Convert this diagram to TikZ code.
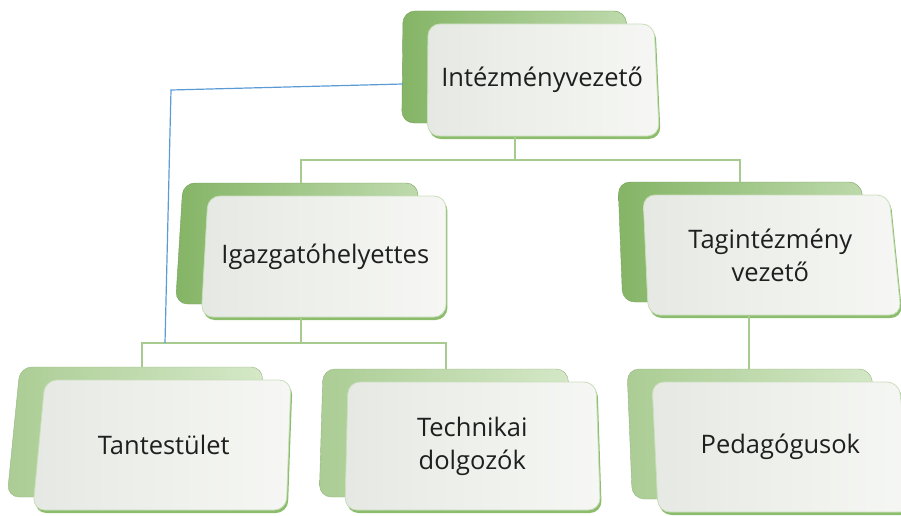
\documentclass[tikz,border=0pt]{standalone}
\usepackage{fontspec}
\setmainfont{Open Sans}
\usetikzlibrary{calc}
\definecolor{grnD}{HTML}{8ABC6A}
\definecolor{grnL}{HTML}{B2D59A}
\definecolor{rim}{HTML}{8CBD6D}
\definecolor{edge}{HTML}{C9DEBB}
\definecolor{frontA}{HTML}{E6E9E3}
\definecolor{frontB}{HTML}{F6F7F4}
\definecolor{conn}{HTML}{A7CB8F}
\definecolor{blueln}{HTML}{5B9BD5}
% back box, rim, front box and its named node; (x,y) is the front's top left corner
\def\orgbox[#1](#2,#3)(#4:#5)#6#7{%
  \pgfmathsetmacro\bx{#2-25}\pgfmathsetmacro\by{#3-13}\pgfmathsetmacro\bw{#4-3}%
  \pgfmathsetmacro\bl{(\bx-450)*0.03*#5/130}\pgfmathsetmacro\br{(\bx+\bw-450)*0.03*#5/130}%
  \pgfmathsetmacro\fl{(#2-450)*0.03*#5/130}\pgfmathsetmacro\fr{(#2+#4-450)*0.03*#5/130}%
  \draw[rounded corners=12pt, draw=#1!85!black, left color=#1!96!black, right color=#1!55!white] (\bx,\by) -- (\bx+\bw,\by) -- (\bx+\bw+\br,\by+#5) -- (\bx+\bl,\by+#5) -- cycle;
  \node[minimum width=\bw pt, minimum height=#5pt, inner sep=0pt, anchor=north west] (#6-b) at (\bx,\by) {};
  \fill[rim, rounded corners=12pt] (#2+1.5,#3+3) -- (#2+#4+1.5,#3+3) -- (#2+#4+\fr+1.5,#3+#5+3) -- (#2+\fl+1.5,#3+#5+3) -- cycle;
  \draw[rounded corners=12pt, draw=edge, line width=0.8pt, left color=frontA, right color=frontB] (#2,#3) -- (#2+#4,#3) -- (#2+#4+\fr,#3+#5) -- (#2+\fl,#3+#5) -- cycle;
  \node[minimum width=#4pt, minimum height=#5pt, inner sep=0pt, align=center, text=black!88, font=\fontsize{25.5}{33}\selectfont] (#6) at ({#2+#4/2+(\fl+\fr)/4},{#3+#5/2}) {#7};
}

\begin{document}
\begin{tikzpicture}[x=1pt, y=-1pt]
		%%%%% START %%%%%
		\useasboundingbox (0,0) rectangle (901,516);
		
		\orgbox[grnD](428,24)(226:112){top}{Intézményvezető}
		\orgbox[grnD](208,196)(238:121){igaz}{Igazgatóhelyettes}
		\orgbox[grnD](643,195)(246:120){tag}{Tagintézmény\\vezető}
		
		\orgbox[grnL](45,380)(246:130){tant}{Tantestület}
		\orgbox[grnL](348,382)(248:128){tech}{Technikai\\dolgozók}
		\orgbox[grnL](652,382)(247:130){ped}{Pedagógusok}
		
		\coordinate (busA) at (0,160);
		\coordinate (busB) at (0,343);
		\draw[conn, line width=2.2pt] (top-b.south |- top.south) -- (top-b.south |- busA) -| (igaz-b.north);
		\draw[conn, line width=2.2pt] (top-b.south |- busA) -| (tag-b.north);
		
		\draw[conn, line width=2.2pt] (igaz-b.south |- igaz.south) -- (igaz-b.south |- busB) -| (tant-b.north);
		\draw[conn, line width=2.2pt] (igaz-b.south |- busB) -| (tech-b.north);
		\draw[conn, line width=2.2pt] (ped-b.north |- tag.south) -- (ped-b.north);
		
		\coordinate (bendB) at (171,90);
		\coordinate (endB) at (165,343);
		\draw[blueln, line width=1.2pt] (top-b.west |- 0,84) -- (bendB) -- (endB);
		
		%%%%% END %%%%%
\end{tikzpicture}
\end{document}
